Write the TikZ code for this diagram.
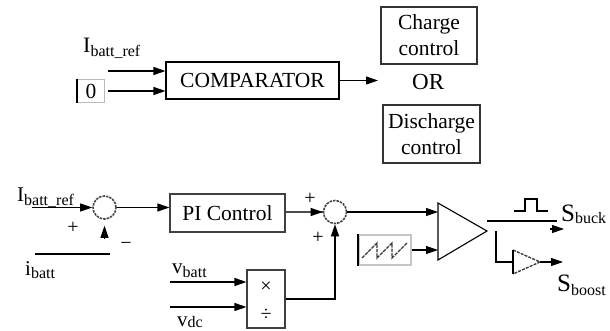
\documentclass[tikz,border=0pt]{standalone}
\usepackage{fontspec}
\setmainfont{Liberation Serif}
\usetikzlibrary{arrows.meta}
\newcommand\fs[1]{\fontsize{#1}{#1}\selectfont}
\newcommand\lab[4]{{\fs{#1}#2}\raisebox{-#4pt}{\fs{16}#3}}
\begin{document}
\begin{tikzpicture}[x=1pt,y=-1pt,
  arr/.style={-{Triangle[length=12pt,width=8pt]}, line width=1.1pt},
  ln/.style={line width=1.1pt},
  box/.style={draw, line width=1.1pt, inner sep=0pt, font=\fs{21.5}},
  twoline/.style={align=center, font=\fontsize{21.5}{26}\selectfont},
  txt/.style={inner sep=0pt, anchor=base west},
  sum/.style={circle, draw=gray!55!black, dash pattern=on 2.5pt off 1pt, line width=1.6pt, minimum size=23pt, inner sep=0pt},
  sgn/.style={inner sep=0pt, font=\fs{20}}]
\useasboundingbox (0,0) rectangle (610,331);

% ---------- top part ----------
\node[txt] (iref1) at (83,53) {\lab{22}{I}{batt\_ref}{4}};
\node[box, draw=gray!55, line width=1.5pt, minimum width=27pt, minimum height=23pt] (zero) at (91,91) {0};
\draw[line width=1.6pt] (zero.north west) -- (zero.south west);
\node[box, minimum width=173pt, minimum height=37pt] (comp) at (252.5,80.5) {COMPARATOR};
\coordinate (t1) at (108,71);
\draw[arr] (t1) -- (t1 -| comp.west);
\coordinate (t2) at (108,91);
\draw[arr] (t2) -- (t2 -| comp.west);
\node[txt, font=\fs{23}] (orlab) at (412,90) {OR};
\coordinate (orin) at (378,80.5);
\draw[arr] (comp.east) -- (orin);
\node[box, draw=black!80, twoline, minimum width=96pt, minimum height=57pt] (chg) at (429,35.5) {Charge\\control};
\node[box, draw=black!80, twoline, minimum width=97pt, minimum height=58pt] (dis) at (431.5,134) {Discharge\\control};

% ---------- bottom part ----------
\node[txt] (iref2) at (17,201) {\lab{21}{I}{batt\_ref}{5}};
\node[sum] (s1) at (104.5,207.5) {};
\coordinate (r2) at (32,207.5);
\draw[arr] (r2) -- (s1.west);
\node[sgn] (p1) at (73,228) {+};
\node[sgn] (m1) at (126,246) {−};
\coordinate (fb) at (104.5,238);
\draw[arr, shorten >=6pt] (fb) -- (s1.south);
\coordinate (fbL) at (35,254);
\coordinate (fbR) at (110,254);
\draw[line width=2.2pt] (fbL) -- (fbR);
\node[txt] (ib) at (25,275) {\lab{21}{i}{batt}{3}};

\node[box, draw=black!75, minimum width=115pt, minimum height=38pt] (pi) at (227.5,213) {PI Control};
\draw[arr] (s1.east) -- (s1.east -| pi.west);
\node[sum] (s2) at (335,212) {};
\draw[ln, draw=gray!60!black] (pi.east |- s2.west) -- (s2.west);
\draw[arr] ([xshift=-12pt]s2.west) -- (s2.west);
\node[sgn] (p2) at (310,199) {+};
\node[sgn] (p3) at (318,238) {+};

\node[box, draw=black!75, minimum width=38pt, minimum height=58pt] (div) at (266,299) {};
\node[sgn] (xs) at (266,287) {×};
\node[sgn] (ds) at (266,315) {÷};
\coordinate (vb) at (170,282);
\draw[arr] (vb) -- (vb -| div.west);
\coordinate (vd) at (170,307);
\draw[arr] (vd) -- (vd -| div.west);
\node[txt] (vbl) at (172,273) {\lab{21}{v}{batt}{4}};
\node[txt] (vdl) at (177,326) {\lab{21}{v}{dc}{1}};
\draw[arr] (div.east) -- (s2.south |- div.east) -- (s2.south);

% comparator triangle
\coordinate (ta) at (438,203);
\coordinate (tb) at (438,260);
\coordinate (tc) at (487,231);
\draw[ln] (ta) -- (tb) -- (tc) -- cycle;
\draw[arr] (s2.east) -- (s2.east -| ta);

% sawtooth carrier
\node[draw=gray!45, line width=2pt, minimum width=52pt, minimum height=30pt, inner sep=0pt] (saw) at (385,250) {};
\draw[line width=1.5pt] (saw.north west) -- (saw.south west);
\draw[draw=gray!45!black, line width=1.4pt, dash pattern=on 3.5pt off 1pt]
  (362,258) -- (377,243) -- (377,258) -- (392,243) -- (392,258) -- (407,243);
\draw[arr] (saw.east) -- (saw.east -| ta);

% outputs
\coordinate (o1) at (487,221);
\coordinate (o2) at (557,221);
\draw[ln] (o1) -- (o2);
\coordinate (h1) at (550,229);
\coordinate (h2) at (564,229);
\draw[arr] (h1) -- (h2);
\draw[ln] (514,211) -- (525,211) -- (525,199) -- (537,199) -- (537,211) -- (548,211);
\node[txt] (sb) at (561,222) {\lab{25}{S}{buck}{1.5}};

\coordinate (b0) at (496,231);
\coordinate (bu1) at (513,250);
\coordinate (bu2) at (513,274);
\coordinate (bu3) at (540,262);
\coordinate (bf) at (513,262);
\draw[ln] (b0) |- (bf);
\draw[draw=gray!50!black, line width=1.4pt, dash pattern=on 3pt off 1.2pt] (bu1) -- (bu3) -- (bu2);
\draw[line width=1.5pt] (bu1) -- (bu2);
\coordinate (bo) at (563,262);
\draw[arr] (bu3) -- (bo);
\node[txt] (sbo) at (557,291) {\lab{25}{S}{boost}{4}};
\end{tikzpicture}
\end{document}
